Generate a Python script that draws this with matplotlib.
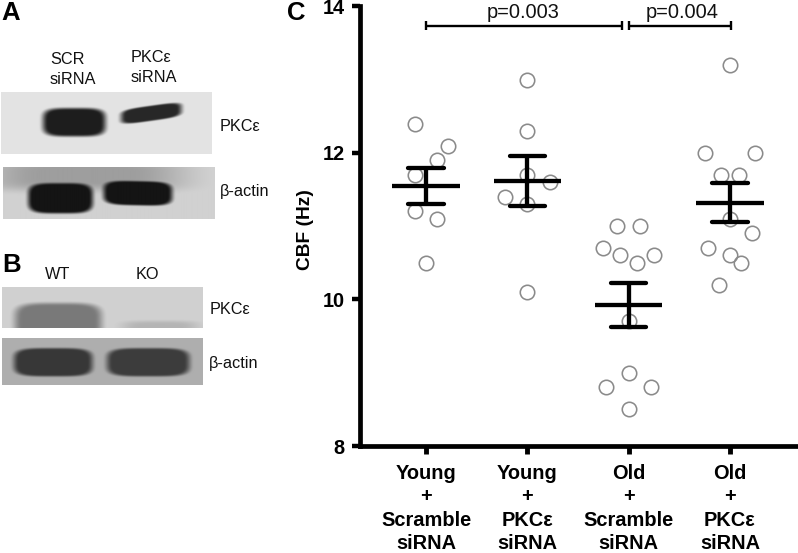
import numpy as np
import matplotlib
matplotlib.use("Agg")
import matplotlib.pyplot as plt

plt.rcParams["font.family"] = ["Liberation Sans", "DejaVu Sans"]

# =========================
# DATA
# =========================

group_labels = [
    "Young\n+\nScramble\nsiRNA",
    "Young\n+\nPKCε\nsiRNA",
    "Old\n+\nScramble\nsiRNA",
    "Old\n+\nPKCε\nsiRNA",
]

young_scr = [12.4, 12.1, 11.9, 11.7, 11.2, 11.1, 10.5]
young_pkc = [13.0, 12.3, 11.7, 11.6, 11.4, 11.3, 10.1]
old_scr = [11.0, 11.0, 10.7, 10.6, 10.5, 10.6, 9.7, 9.0, 8.8, 8.8, 8.5]
old_pkc = [13.2, 12.0, 12.0, 11.7, 11.7, 11.1, 10.9, 10.7, 10.6, 10.5, 10.2]

# horizontal scatter of the points, in category units
young_scr_dx = [-0.11, 0.22, 0.11, -0.11, -0.11, 0.11, 0.0]
young_pkc_dx = [0.0, 0.0, 0.0, 0.22, -0.22, 0.0, 0.0]
old_scr_dx = [-0.11, 0.11, -0.25, -0.085, 0.085, 0.25, 0.0, 0.0, -0.22, 0.22, 0.0]
old_pkc_dx = [0.0, -0.25, 0.25, -0.085, 0.085, 0.0, 0.22, -0.22, 0.0, 0.11, -0.11]

means = [11.55, 11.62, 9.93, 11.32]
err_low = [11.30, 11.28, 9.62, 11.05]
err_high = [11.80, 11.96, 10.22, 11.59]

y_ticks = [8, 10, 12, 14]

W, H = 798, 553

fig = plt.figure(figsize=(W / 100, H / 100), dpi=100)


def fx(x):
    return x / W


def fy(y):
    return 1 - y / H


# =========================
# BLOT PANELS
# =========================


def blot(x0, y0, x1, y1, bg, bands):
    ax = fig.add_axes([fx(x0), fy(y1), (x1 - x0) / W, (y1 - y0) / H])
    xx, yy = np.meshgrid(np.arange(x0, x1, 0.5), np.arange(y0, y1, 0.5))
    img = np.full(xx.shape, float(bg))
    for cx, cy, hw, hh, tilt, level, soft in bands:
        yc = cy + tilt * (xx - cx)
        d = ((np.abs(xx - cx) / hw) ** 4 + (np.abs(yy - yc) / hh) ** 4) ** (1 / 4)
        m = np.clip((1 + soft - d) / (2 * soft), 0, 1)
        m = m * m * (3 - 2 * m)
        img = img * (1 - m) + level * m
    ax.imshow(img, cmap="gray", vmin=0, vmax=1, aspect="auto",
              extent=[x0, x1, y1, y0], interpolation="bilinear")
    ax.axis("off")


blot(1, 92, 212, 154, 0.89,
     [(74, 122, 31, 14, 0, 0.12, 0.16),
      (151, 113, 30, 7.5, -0.14, 0.16, 0.16)])
blot(3, 167, 214, 219, 0.82,
     [(85, 175, 90, 14, 0, 0.62, 0.5),
      (60, 198, 32, 15, 0, 0.08, 0.13),
      (137, 193, 34, 12, 0.02, 0.08, 0.13)])
blot(2, 287, 203, 328, 0.82,
     [(58, 321, 43, 18, 0, 0.48, 0.16),
      (160, 328, 36, 7, 0, 0.71, 0.4)])
blot(2, 338, 203, 385, 0.68,
     [(53, 362, 39, 14, 0, 0.22, 0.13),
      (148, 362, 41, 14, 0, 0.24, 0.13)])

# =========================
# BLOT TEXT
# =========================

panel_style = dict(fontsize=18.5, fontweight="bold", ha="left", va="baseline")
fig.text(fx(1), fy(20), "A", **panel_style)
fig.text(fx(2), fy(272), "B", **panel_style)
fig.text(fx(287), fy(20), "C", **panel_style)

blot_text = [
    (50, 64, "SCR"), (50, 84, "siRNA"),
    (131, 62, "PKCε"), (131, 82, "siRNA"),
    (220, 131, "PKCε"), (220, 196, "β-actin"),
    (45, 279, "WT"), (136, 279, "KO"),
    (210, 314, "PKCε"), (209, 368, "β-actin"),
]
for x, y, s in blot_text:
    fig.text(fx(x), fy(y), s, fontsize=11.7, ha="left", va="baseline", color="#111111")

# =========================
# MAIN PLOT
# =========================

x_first = 426.0
x_step = 101.3
left_px, right_px = 359.5, 797.0
top_px, bottom_px = 6.3, 446.0

ax = fig.add_axes([fx(left_px), fy(bottom_px),
                   (right_px - left_px) / W, (bottom_px - top_px) / H])
ax.set_xlim((left_px - x_first) / x_step, (right_px - x_first) / x_step)
ax.set_ylim(8, 14)
ax.patch.set_alpha(0)

groups = [young_scr, young_pkc, old_scr, old_pkc]
offsets = [young_scr_dx, young_pkc_dx, old_scr_dx, old_pkc_dx]

for i in range(4):
    ax.plot(i + np.array(offsets[i]), groups[i], linestyle="none", marker="o",
            markersize=10.4, markerfacecolor="none", markeredgecolor="#8a8a8a",
            markeredgewidth=1.15, clip_on=False, zorder=2)

    ax.plot([i - 0.332, i + 0.332], [means[i], means[i]], color="black",
            linewidth=3.1, solid_capstyle="butt", zorder=3)
    ax.plot([i, i], [err_low[i], err_high[i]], color="black",
            linewidth=3.1, solid_capstyle="butt", zorder=3)
    for val in (err_low[i], err_high[i]):
        ax.plot([i - 0.175, i + 0.175], [val, val], color="black",
                linewidth=3.1, solid_capstyle="round", zorder=3)

# p value brackets
bracket_y = 13.735
cap = 0.06
for a, b, label, tx in [(0, 1.932, "p=0.003", 0.957), (2.0, 3.013, "p=0.004", 2.525)]:
    ax.plot([a, b], [bracket_y, bracket_y], color="black", linewidth=1.7,
            solid_capstyle="butt", clip_on=False)
    for end in (a, b):
        ax.plot([end, end], [bracket_y - cap, bracket_y + cap], color="black",
                linewidth=1.7, solid_capstyle="butt", clip_on=False)
    ax.text(tx, bracket_y + 0.1, label, fontsize=14.4, ha="center", va="baseline",
            color="#111111", clip_on=False)

ax.spines["top"].set_visible(False)
ax.spines["right"].set_visible(False)
ax.spines["left"].set_linewidth(3.4)
ax.spines["bottom"].set_linewidth(3.4)

ax.set_yticks(y_ticks)
ax.set_yticklabels([str(t) for t in y_ticks], fontsize=14.4, fontweight="bold")
ax.set_xticks(range(4))
ax.set_xticklabels(group_labels, fontsize=14.4, fontweight="bold", linespacing=1.3)
ax.tick_params(axis="y", length=6.1, width=3.2, pad=4.5)
ax.tick_params(axis="x", length=5.8, width=3.5, pad=7)

fig.text(fx(305), fy(230), "CBF (Hz)", fontsize=13.8, fontweight="bold",
         rotation=90, ha="center", va="center")

fig.savefig("out.png", dpi=100)
plt.close(fig)
